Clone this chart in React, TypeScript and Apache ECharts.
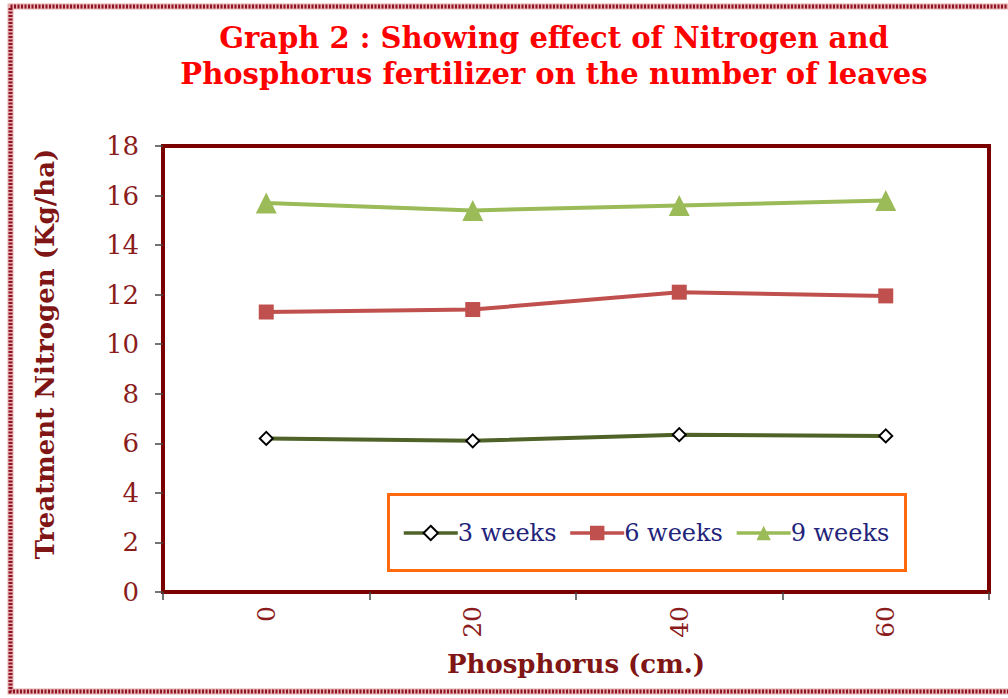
import React, { useEffect, useRef } from "react";
import * as echarts from "echarts";

// Phosphorus levels (cm.) on the category axis
const phosphorus = ["0", "20", "40", "60"];
// Number of leaves per sampling week
const weeks3 = [6.2, 6.1, 6.35, 6.3];
const weeks6 = [11.3, 11.4, 12.1, 11.95];
const weeks9 = [15.7, 15.4, 15.6, 15.8];
const yTicks = { min: 0, max: 18, interval: 2 };

const darkRed = "#8b1c1c";
const nameRed = "#7f1515";
const serif = "'DejaVu Serif', 'Liberation Serif', serif";

export default function App() {
  const ref = useRef<HTMLDivElement>(null);

  useEffect(() => {
    if (!ref.current) return;
    const chart = echarts.init(ref.current, null, { renderer: "svg" });
    chart.setOption({
      animation: false,
      backgroundColor: "#ffffff",
      title: {
        text: "Graph 2 : Showing effect of Nitrogen and\nPhosphorus fertilizer on the number of leaves",
        left: 549,
        top: 15,
        textAlign: "center",
        textStyle: {
          color: "#ff0000",
          fontFamily: serif,
          fontWeight: "bold",
          fontSize: 29,
          lineHeight: 36,
        },
      },
      grid: {
        left: 163,
        right: 19,
        top: 146,
        bottom: 106,
        show: true,
        borderColor: "#7a0000",
        borderWidth: 4,
      },
      legend: {
        left: 397,
        top: 516,
        itemWidth: 54,
        itemHeight: 18,
        itemGap: 12,
        lineStyle: { width: 3.5 },
        textStyle: {
          color: "#23237a",
          fontFamily: serif,
          fontSize: 24,
          padding: [0, 0, 0, -5],
        },
        data: ["3 weeks", "6 weeks", "9 weeks"],
      },
      xAxis: {
        type: "category",
        data: phosphorus,
        boundaryGap: true,
        name: "Phosphorus (cm.)",
        nameLocation: "middle",
        nameGap: 59,
        nameTextStyle: {
          color: nameRed,
          fontFamily: serif,
          fontWeight: "bold",
          fontSize: 26,
        },
        axisLine: { lineStyle: { color: "#7a0000", width: 4 } },
        axisTick: { show: true, length: 8, lineStyle: { color: "#444", width: 1.5 } },
        axisLabel: {
          rotate: 90,
          margin: 14,
          color: darkRed,
          fontFamily: serif,
          fontSize: 25,
        },
        splitLine: { show: false },
      },
      yAxis: {
        type: "value",
        min: yTicks.min,
        max: yTicks.max,
        interval: yTicks.interval,
        axisLine: { show: true, lineStyle: { color: "#7a0000", width: 4 } },
        axisTick: { show: true, length: 8, lineStyle: { color: "#444", width: 1.5 } },
        axisLabel: {
          margin: 24,
          color: darkRed,
          fontFamily: serif,
          fontSize: 26,
        },
        splitLine: { show: false },
      },
      series: [
        {
          name: "3 weeks",
          type: "line",
          data: weeks3,
          symbol: "diamond",
          symbolSize: 13,
          lineStyle: { color: "#4f6228", width: 4 },
          itemStyle: { color: "#ffffff", borderColor: "#000000", borderWidth: 2 },
        },
        {
          name: "6 weeks",
          type: "line",
          data: weeks6,
          symbol: "rect",
          symbolSize: 15,
          lineStyle: { color: "#c0504d", width: 4 },
          itemStyle: { color: "#c0504d" },
        },
        {
          name: "9 weeks",
          type: "line",
          data: weeks9,
          symbol: "triangle",
          symbolSize: 21,
          lineStyle: { color: "#9bbb59", width: 4 },
          itemStyle: { color: "#9bbb59" },
        },
      ],
      graphic: [
        // dotted maroon page frame
        {
          type: "rect",
          shape: { x: 10.5, y: 6.5, width: 1030, height: 685 },
          style: { fill: "none", stroke: "#e6b0b0", lineWidth: 6 },
          silent: true,
        },
        {
          type: "rect",
          shape: { x: 10.5, y: 6.5, width: 1030, height: 685 },
          style: { fill: "none", stroke: "#8e1325", lineWidth: 4, lineDash: [2, 1.5] },
          silent: true,
        },
        // vertical axis title
        {
          type: "text",
          x: 45,
          y: 354,
          rotation: Math.PI / 2,
          silent: true,
          style: {
            text: "Treatment Nitrogen (Kg/ha)",
            fill: nameRed,
            font: "bold 26px 'DejaVu Serif', 'Liberation Serif', serif",
            align: "center",
            verticalAlign: "middle",
          },
        },
        // orange box round the legend
        {
          type: "rect",
          shape: { x: 388.5, y: 494.5, width: 517, height: 76 },
          style: { fill: "none", stroke: "#ff6a10", lineWidth: 3 },
          silent: true,
          z: 10,
        },
      ],
    });
    return () => chart.dispose();
  }, []);

  return (
    <div
      ref={ref}
      style={{ position: "fixed", left: 0, top: 0, width: 1008, height: 698 }}
    />
  );
}
